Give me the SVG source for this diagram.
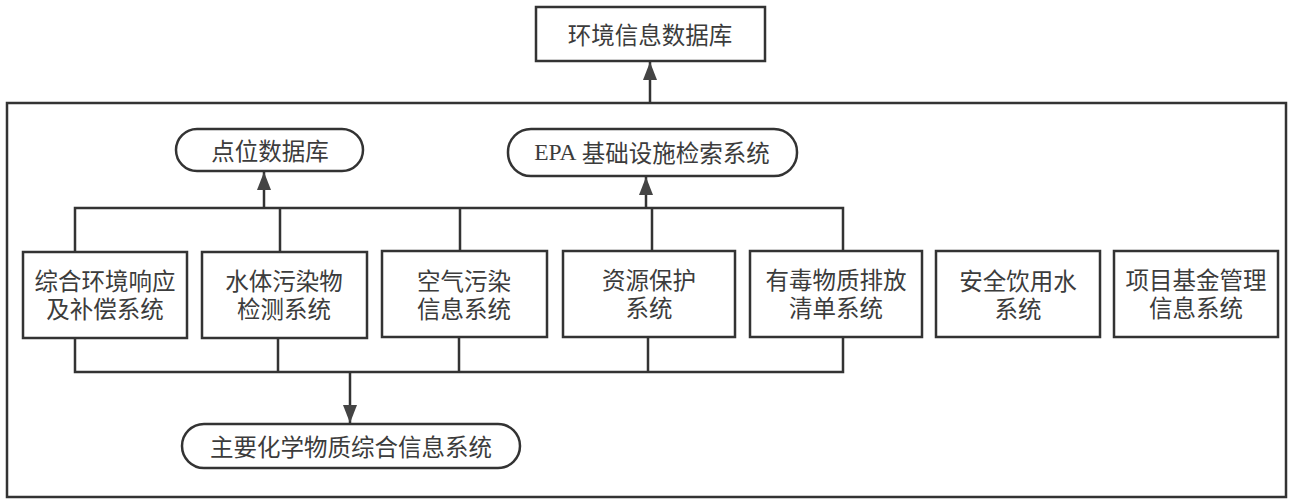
<svg xmlns="http://www.w3.org/2000/svg" width="1290" height="500" viewBox="0 0 1290 500">
<style>
.box{fill:#fff;stroke:#333;stroke-width:2.5}
.frame{fill:none;stroke:#333;stroke-width:2.5}
.ln{fill:none;stroke:#333;stroke-width:2.5}
text{font-family:"Noto Sans CJK SC","Liberation Sans",sans-serif;font-size:23.5px;fill:#3c3c3c;text-anchor:middle;dominant-baseline:central}
.lat{font-family:"Liberation Serif","Noto Sans CJK SC",serif}
</style>
<defs>
<marker id="ah" markerUnits="userSpaceOnUse" markerWidth="18" markerHeight="14" refX="18" refY="7" orient="auto" viewBox="0 0 18 14">
<path d="M0,0 L18,7 L0,14 Z" fill="#444"/>
</marker>
</defs>
<rect class="frame" x="7" y="103" width="1279" height="394"/>
<g id="connectors">
<path class="ln" d="M650,103 V62" marker-end="url(#ah)"/>
<path class="ln" d="M75,252 V208 H843 V252 M280,208 V252 M460,208 V252 M652,208 V252"/>
<path class="ln" d="M264,208 V172" marker-end="url(#ah)"/>
<path class="ln" d="M646,208 V177" marker-end="url(#ah)"/>
<path class="ln" d="M75,338 V372 H843 V338 M278,338 V372 M459,338 V372 M648,338 V372"/>
<path class="ln" d="M350,372 V423" marker-end="url(#ah)"/>
</g>
<g id="env-db"><rect class="box" x="536" y="7" width="229" height="54"/><text x="650" y="34">环境信息数据库</text></g>
<g id="point-db"><rect class="box" x="176" y="129" width="187" height="42" rx="21"/><text x="270" y="150">点位数据库</text></g>
<g id="epa"><rect class="box" x="508" y="129" width="289" height="47" rx="23"/><text x="652" y="152"><tspan class="lat">EPA</tspan> 基础设施检索系统</text></g>
<g id="n1"><rect class="box" x="23" y="252" width="164" height="86"/><text x="105" y="280">综合环境响应</text><text x="105" y="308">及补偿系统</text></g>
<g id="n2"><rect class="box" x="202" y="252" width="165" height="86"/><text x="284" y="280">水体污染物</text><text x="284" y="308">检测系统</text></g>
<g id="n3"><rect class="box" x="382" y="251" width="165" height="86"/><text x="464" y="280">空气污染</text><text x="464" y="308">信息系统</text></g>
<g id="n4"><rect class="box" x="563" y="251" width="172" height="86"/><text x="649" y="279">资源保护</text><text x="649" y="307">系统</text></g>
<g id="n5"><rect class="box" x="750" y="251" width="172" height="86"/><text x="836" y="279">有毒物质排放</text><text x="836" y="307">清单系统</text></g>
<g id="n6"><rect class="box" x="936" y="251" width="164" height="86"/><text x="1018" y="280">安全饮用水</text><text x="1018" y="308">系统</text></g>
<g id="n7"><rect class="box" x="1114" y="251" width="164" height="86"/><text x="1196" y="279">项目基金管理</text><text x="1196" y="307">信息系统</text></g>
<g id="chem"><rect class="box" x="182" y="424" width="338" height="44" rx="22"/><text x="351" y="446">主要化学物质综合信息系统</text></g>
</svg>
